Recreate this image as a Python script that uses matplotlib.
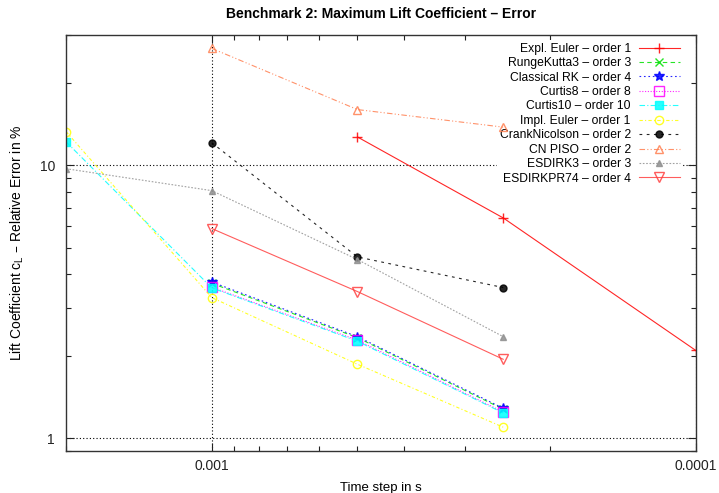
import matplotlib
matplotlib.use("Agg")
import matplotlib.pyplot as plt
from matplotlib.ticker import FixedLocator, FuncFormatter, NullFormatter, LogLocator

plt.rcParams['font.family'] = ['Liberation Sans', 'DejaVu Sans']

# time steps
dt4 = [0.002, 0.001, 0.0005, 0.00025]
dt3 = [0.001, 0.0005, 0.00025]
dt_ee = [0.0005, 0.00025, 0.0001]

labels = ["Expl. Euler – order 1", "RungeKutta3 – order 3", "Classical RK – order 4",
          "Curtis8 – order 8", "Curtis10 – order 10", "Impl. Euler – order 1",
          "CrankNicolson – order 2", "CN PISO – order 2", "ESDIRK3 – order 3",
          "ESDIRKPR74 – order 4"]

expl_euler = [12.7, 6.42, 2.10]
rk3 = [3.70, 2.34, 1.28]
rk4 = [3.74, 2.36, 1.29]
curtis8 = [3.58, 2.29, 1.25]
curtis10 = [12.2, 3.56, 2.27, 1.24]
impl_euler = [13.3, 3.28, 1.87, 1.10]
crank = [12.1, 4.62, 3.57]
cnpiso = [26.8, 16.0, 13.8]
esdirk3 = [9.72, 8.08, 4.52, 2.36]
esdirkpr74 = [5.87, 3.45, 1.95]

series = [
    (dt_ee, expl_euler, dict(color='#ff0000', ls='-', marker='+', ms=7, mfc='none')),
    (dt3, rk3, dict(color='#00e000', ls=(0, (4, 3)), marker='x', ms=6, mfc='none')),
    (dt3, rk4, dict(color='#0000ff', ls=(0, (1.5, 2.5)), marker='*', ms=7)),
    (dt3, curtis8, dict(color='#ff00ff', ls=(0, (1, 1.5)), marker='s', ms=7, mfc='none')),
    (dt4, curtis10, dict(color='#00ffff', ls=(0, (5, 2, 1, 2)), marker='s', ms=6)),
    (dt4, impl_euler, dict(color='#ffff00', ls=(0, (3, 2, 1, 2)), marker='o', ms=6, mfc='none')),
    (dt3, crank, dict(color='#000000', ls=(0, (2.5, 4)), marker='o', ms=5)),
    (dt3, cnpiso, dict(color='#ff7f50', ls=(0, (5, 2, 1, 2, 1, 2)), marker='^', ms=6, mfc='none')),
    (dt4, esdirk3, dict(color='#909090', ls=(0, (1.5, 1.5)), marker='^', ms=5)),
    (dt3, esdirkpr74, dict(color='#ff4040', ls='-', marker='v', ms=7, mfc='none')),
]

fig = plt.figure(figsize=(7.19, 4.93), dpi=100)
ax = fig.add_axes([0.0918, 0.0852, 0.876, 0.8438])
ax.set_axisbelow(True)

for (x, y, st), lab in zip(series, labels):
    ax.plot(x, y, lw=0.8, label=lab, mew=1.0, alpha=0.85, zorder=2, **st)

ax.set_xscale('log')
ax.set_yscale('log')
ax.set_xlim(0.002, 0.0001)
ax.set_ylim(0.9, 30)

ax.xaxis.set_major_locator(FixedLocator([0.001, 0.0001]))
ax.xaxis.set_major_formatter(FuncFormatter(lambda v, p: '0.001' if abs(v - 0.001) < 1e-9 else '0.0001'))
ax.xaxis.set_minor_locator(LogLocator(base=10, subs=range(2, 10)))
ax.xaxis.set_minor_formatter(NullFormatter())
ax.yaxis.set_major_locator(FixedLocator([1, 10]))
ax.yaxis.set_major_formatter(FuncFormatter(lambda v, p: '%d' % round(v)))
ax.yaxis.set_minor_locator(LogLocator(base=10, subs=range(2, 10)))
ax.yaxis.set_minor_formatter(NullFormatter())

ax.tick_params(which='both', direction='in', top=True, right=True, labelsize=10, colors='#222222')
ax.tick_params(which='major', length=6, width=0.8)
ax.tick_params(axis='x', which='major', pad=6)
ax.tick_params(axis='y', which='major', pad=8)
ax.tick_params(which='minor', length=3.5, width=0.8)
ax.grid(True, which='major', ls=(0, (1, 2)), color='black', lw=0.8)
for s in ax.spines.values():
    s.set_linewidth(1.0)
    s.set_color('#333333')

ax.set_title('Benchmark 2: Maximum Lift Coefficient – Error', fontsize=10, fontweight='bold', pad=12)
ax.set_xlabel('Time step in s', fontsize=9.5, labelpad=6)
ax.set_ylabel(r'Lift Coefficient c$_\mathregular{L}$ – Relative Error in %', fontsize=10, labelpad=10)

leg = ax.legend(loc='upper right', bbox_to_anchor=(0.9786, 0.987), markerfirst=False,
                fontsize=8.7, frameon=True, framealpha=1, facecolor='white',
                edgecolor='none', handlelength=3.4, labelspacing=0.2,
                borderaxespad=0, borderpad=0.2, handletextpad=0.67, fancybox=False)
leg.set_zorder(1.5)

fig.savefig('out.png', dpi=100)
